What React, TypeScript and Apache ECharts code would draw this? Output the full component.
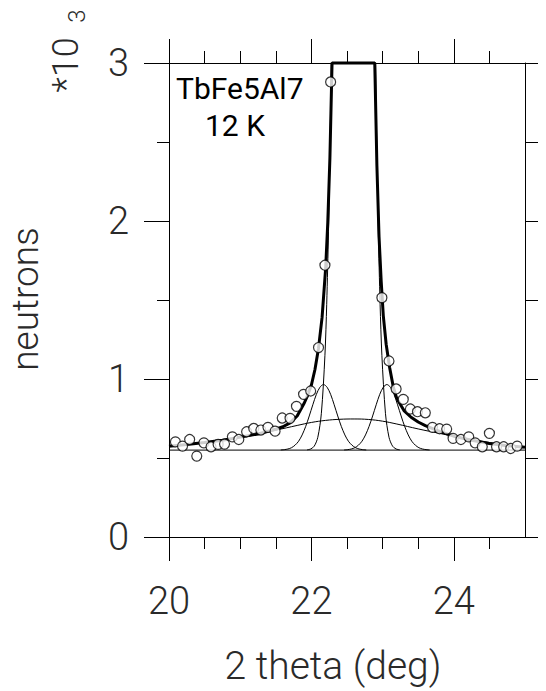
import React, { useEffect, useRef } from "react";
import * as echarts from "echarts";

// measured neutron counts (in units of 10^3) against 2 theta (deg)
const observedTheta = [19.99, 20.09, 20.19, 20.29, 20.39, 20.49, 20.59, 20.69, 20.78, 20.89, 20.98, 21.09, 21.19, 21.29, 21.39, 21.49, 21.59, 21.7, 21.79, 21.89, 21.99, 22.1, 22.19, 22.27, 22.99, 23.09, 23.19, 23.29, 23.39, 23.49, 23.6, 23.7, 23.8, 23.9, 23.99, 24.1, 24.21, 24.3, 24.4, 24.5, 24.6, 24.7, 24.8, 24.89];
const observedCounts = [0.581, 0.602, 0.575, 0.617, 0.512, 0.596, 0.571, 0.586, 0.588, 0.634, 0.617, 0.666, 0.687, 0.677, 0.694, 0.67, 0.753, 0.751, 0.827, 0.903, 0.924, 1.199, 1.72, 2.88, 1.515, 1.114, 0.937, 0.871, 0.81, 0.793, 0.786, 0.694, 0.685, 0.683, 0.624, 0.617, 0.634, 0.596, 0.571, 0.656, 0.571, 0.571, 0.56, 0.575];

// total fit (thick line), capped at the top of the frame as in the plot
const totalFit = [[20.0, 0.574], [20.25, 0.585], [20.5, 0.598], [20.75, 0.613], [21.0, 0.632], [21.25, 0.652], [21.5, 0.682], [21.6, 0.698], [21.7, 0.722], [21.8, 0.766], [21.9, 0.848], [21.95, 0.9], [22.0, 0.962], [22.05, 1.06], [22.1, 1.195], [22.15, 1.39], [22.2, 1.7], [22.23, 1.99], [22.26, 2.4], [22.29, 3.0], [22.89, 3.0], [22.92, 2.35], [22.95, 1.9], [22.98, 1.62], [23.01, 1.4], [23.05, 1.22], [23.1, 1.07], [23.15, 0.95], [23.2, 0.876], [23.3, 0.8], [23.4, 0.758], [23.5, 0.728], [23.6, 0.705], [23.8, 0.668], [24.0, 0.638], [24.25, 0.612], [24.5, 0.592], [24.75, 0.578], [25.0, 0.568]];

// flat background level
const backgroundLevel = [[20.0, 0.55], [25.0, 0.55]];

// broad diffuse component
const broadComponent = [[20.0, 0.572], [20.5, 0.597], [21.0, 0.628], [21.5, 0.676], [21.8, 0.706], [22.0, 0.725], [22.2, 0.738], [22.4, 0.745], [22.6, 0.747], [22.8, 0.744], [23.0, 0.733], [23.2, 0.715], [23.5, 0.684], [23.8, 0.656], [24.0, 0.638], [24.5, 0.598], [25.0, 0.568]];

// left satellite peak
const satelliteLeft = [[21.57, 0.551], [21.62, 0.553], [21.67, 0.557], [21.72, 0.565], [21.77, 0.581], [21.82, 0.606], [21.87, 0.646], [21.92, 0.7], [21.97, 0.766], [22.02, 0.837], [22.07, 0.903], [22.12, 0.948], [22.17, 0.965], [22.22, 0.948], [22.27, 0.903], [22.32, 0.837], [22.37, 0.766], [22.42, 0.7], [22.47, 0.646], [22.52, 0.606], [22.57, 0.581], [22.62, 0.565], [22.67, 0.557], [22.72, 0.553], [22.77, 0.551]];

// right satellite peak
const satelliteRight = [[22.46, 0.551], [22.51, 0.553], [22.56, 0.557], [22.61, 0.565], [22.66, 0.581], [22.71, 0.606], [22.76, 0.646], [22.81, 0.7], [22.86, 0.766], [22.91, 0.837], [22.96, 0.903], [23.01, 0.948], [23.06, 0.965], [23.11, 0.948], [23.16, 0.903], [23.21, 0.837], [23.26, 0.766], [23.31, 0.7], [23.36, 0.646], [23.41, 0.606], [23.46, 0.581], [23.51, 0.565], [23.56, 0.557], [23.61, 0.553], [23.66, 0.551]];

// main Bragg peak component (runs off the top)
const mainPeak = [[21.94, 0.552], [21.99, 0.557], [22.04, 0.575], [22.09, 0.631], [22.14, 0.783], [22.19, 1.15], [22.215, 1.473], [22.24, 1.933], [22.265, 2.561], [22.29, 3.392], [22.315, 4.45], [22.865, 4.45], [22.89, 3.392], [22.915, 2.561], [22.94, 1.933], [22.965, 1.473], [22.99, 1.15], [23.04, 0.783], [23.09, 0.631], [23.14, 0.575], [23.19, 0.557], [23.24, 0.552]];

const xMajorTicks = [20, 22, 24];
const yMajorTicks = [0, 1, 2, 3];

export default function App() {
  const ref = useRef<HTMLDivElement>(null);
  useEffect(() => {
    const chart = echarts.init(ref.current!, null, { renderer: "svg" });
    const axisText = { fontFamily: "Roboto", fontWeight: 300, fontSize: 38, color: "#2a2a2a" };
    const black = { color: "#000", width: 1 };
    const observed = observedTheta.map((t, i) => [t, observedCounts[i]]);
    const thin = (data: number[][], smooth: number | boolean) => ({
      type: "line",
      data,
      showSymbol: false,
      symbol: "none",
      smooth,
      lineStyle: { color: "#000", width: 1 },
      z: 3,
    });
    chart.setOption({
      animation: false,
      backgroundColor: "#fff",
      grid: { left: 169, right: 21, top: 63, bottom: 154, containLabel: false },
      xAxis: [
        {
          type: "value", position: "bottom", min: 20, max: 25, interval: 2,
          axisLine: { show: true, onZero: false, lineStyle: black },
          axisTick: { show: true, length: 24, customValues: xMajorTicks, lineStyle: black },
          minorTick: { show: true, splitNumber: 4, length: 12, lineStyle: black },
          axisLabel: { show: true, margin: 45, customValues: xMajorTicks, ...axisText },
          splitLine: { show: false },
          minorSplitLine: { show: false },
        },
        {
          type: "value", position: "top", min: 20, max: 25, interval: 2,
          axisLine: { show: true, onZero: false, lineStyle: black },
          axisTick: { show: true, length: 24, customValues: xMajorTicks, lineStyle: black },
          minorTick: { show: true, splitNumber: 4, length: 12, lineStyle: black },
          axisLabel: { show: false },
          splitLine: { show: false },
        },
      ],
      yAxis: [
        {
          type: "value", position: "left", min: 0, max: 3, interval: 1,
          axisLine: { show: true, onZero: false, lineStyle: black },
          axisTick: { show: true, length: 25, customValues: yMajorTicks, lineStyle: black },
          minorTick: { show: true, splitNumber: 2, length: 12, lineStyle: black },
          axisLabel: { show: true, margin: 40, customValues: yMajorTicks, ...axisText },
          splitLine: { show: false },
        },
        {
          type: "value", position: "right", min: 0, max: 3, interval: 1,
          axisLine: { show: true, onZero: false, lineStyle: black },
          axisTick: { show: true, length: 13, lineStyle: black },
          minorTick: { show: true, splitNumber: 2, length: 13, lineStyle: black },
          axisLabel: { show: false },
          splitLine: { show: false },
        },
      ],
      series: [
        thin(backgroundLevel, false),
        thin(broadComponent, 0.4),
        thin(satelliteLeft, 0.3),
        thin(satelliteRight, 0.3),
        { ...thin(mainPeak, 0.3), clip: true },
        {
          type: "line",
          data: totalFit,
          showSymbol: false,
          symbol: "none",
          smooth: false,
          clip: false,
          lineStyle: { color: "#000", width: 3 },
          z: 4,
        },
        {
          type: "scatter",
          data: observed,
          symbol: "circle",
          symbolSize: 10,
          itemStyle: { color: "#fff", borderColor: "#000", borderWidth: 1.2 },
          z: 5,
        },
      ],
      graphic: [
        { type: "text", x: 176, y: 88, style: { text: "TbFe5Al7", fontFamily: "Roboto", fontWeight: 400, fontSize: 30, fill: "#000", textAlign: "left", textVerticalAlign: "middle" } },
        { type: "text", x: 205, y: 125, style: { text: "12 K", fontFamily: "Roboto", fontWeight: 400, fontSize: 30, fill: "#000", textAlign: "left", textVerticalAlign: "middle" } },
        { type: "text", x: 25, y: 299, rotation: Math.PI / 2, style: { text: "neutrons", fontFamily: "Roboto", fontWeight: 300, fontSize: 37, fill: "#2a2a2a", textAlign: "center", textVerticalAlign: "middle" } },
        { type: "text", x: 66, y: 65, rotation: Math.PI / 2, style: { text: "*10", fontFamily: "Roboto", fontWeight: 300, fontSize: 36, fill: "#2a2a2a", textAlign: "center", textVerticalAlign: "middle" } },
        { type: "text", x: 77, y: 16, rotation: Math.PI / 2, style: { text: "3", fontFamily: "Roboto", fontWeight: 300, fontSize: 24, fill: "#2a2a2a", textAlign: "center", textVerticalAlign: "middle" } },
        { type: "text", x: 333, y: 666, style: { text: "2 theta (deg)", fontFamily: "Roboto", fontWeight: 300, fontSize: 39, fill: "#2a2a2a", textAlign: "center", textVerticalAlign: "middle" } },
      ],
    });
    return () => chart.dispose();
  }, []);
  return (
    <div
      ref={ref}
      style={{ position: "fixed", left: 0, top: 0, width: 546, height: 691, background: "#fff" }}
    />
  );
}
